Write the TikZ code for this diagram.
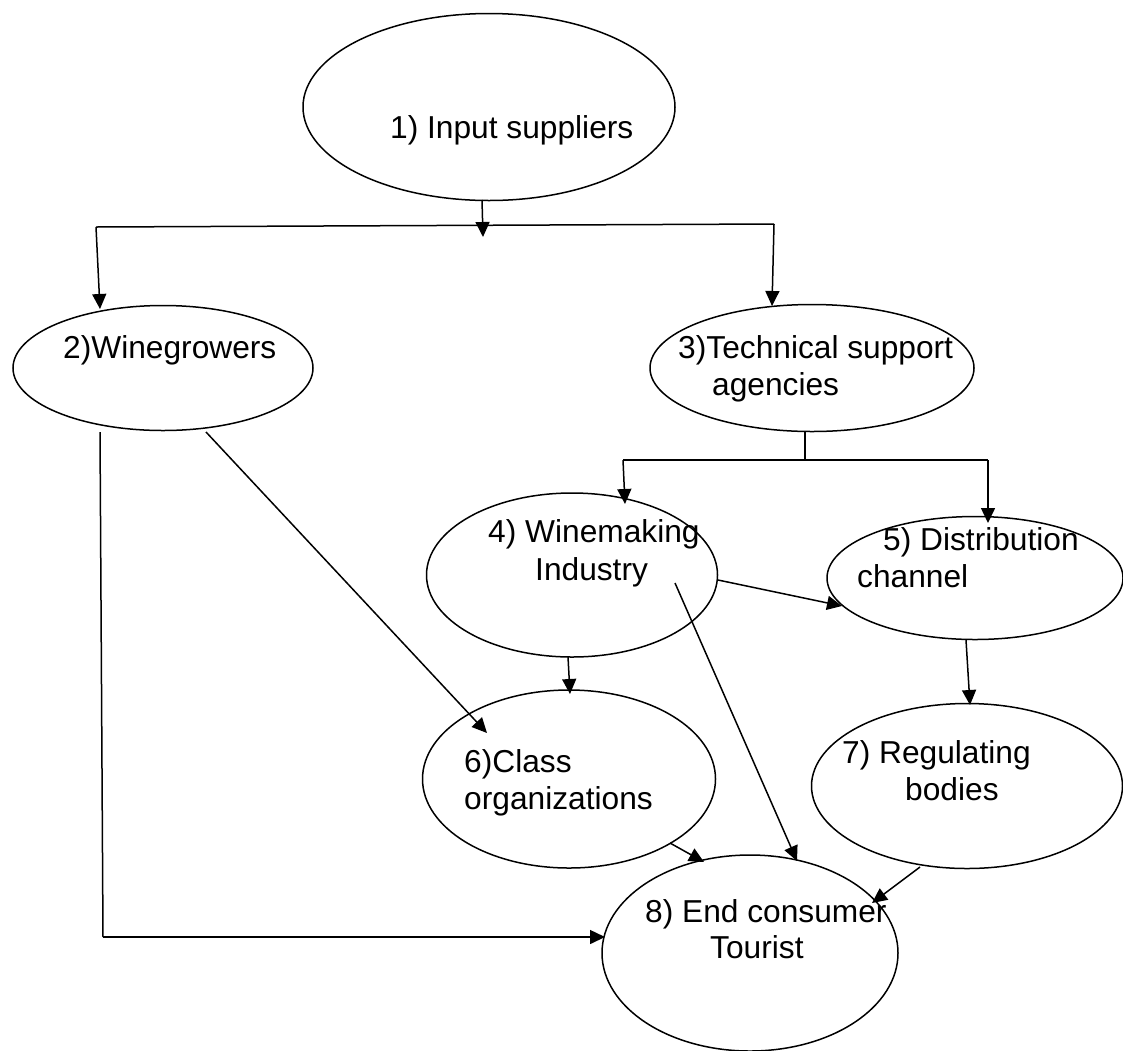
\documentclass[tikz,border=0pt]{standalone}
\usepackage{fontspec}
\setmainfont{Liberation Sans}
\usetikzlibrary{shapes.geometric,arrows.meta}
\begin{document}
\begin{tikzpicture}[x=1pt,y=-1pt,
  oval/.style={draw, ellipse, inner sep=0pt, outer sep=0pt, line width=1.5pt},
  lbl/.style={anchor=base west, inner sep=0pt, font=\fontsize{31.7}{37}\selectfont},
  conn/.style={line width=1.5pt},
  arr/.style={conn, -{Triangle[length=15pt,width=14pt]}}]
\useasboundingbox (0,0) rectangle (1123,1050);
\fill[white] (0,0) rectangle (1123,1050);
% ellipses
\node[oval, minimum width=372pt, minimum height=187pt] (e1) at (489,107) {};
\node[oval, minimum width=300pt, minimum height=125pt] (e2) at (163,368) {};
\node[oval, minimum width=324pt, minimum height=127pt] (e3) at (812,368) {};
\node[oval, minimum width=291pt, minimum height=164pt] (e4) at (572,575) {};
\node[oval, minimum width=296pt, minimum height=123pt] (e5) at (975,578) {};
\node[oval, minimum width=293pt, minimum height=178pt] (e6) at (569,779) {};
\node[oval, minimum width=311pt, minimum height=165pt] (e7) at (967,786) {};
\node[oval, minimum width=296pt, minimum height=196pt] (e8) at (750,953) {};
% labels
\node[lbl] (t1) at (390,138) {1) Input suppliers};
\node[lbl] (t2) at (63,358) {2)Winegrowers};
\node[lbl] (t3a) at (678,358) {3)Technical support};
\node[lbl] (t3b) at (712,395) {agencies};
\node[lbl] (t4a) at (488,542) {4) Winemaking};
\node[lbl] (t4b) at (535,580) {Industry};
\node[lbl] (t5a) at (883,550) {5) Distribution};
\node[lbl] (t5b) at (857,587) {channel};
\node[lbl] (t6a) at (464,772) {6)Class};
\node[lbl] (t6b) at (464,809) {organizations};
\node[lbl] (t7a) at (842,763) {7) Regulating};
\node[lbl] (t7b) at (905,800) {bodies};
\node[lbl] (t8a) at (645,922) {8) End consumer};
\node[lbl] (t8b) at (710,958) {Tourist};
% coordinates
\coordinate (s1) at (482,200);
\coordinate (a1) at (483,237);
\coordinate (hl) at (96,227);
\coordinate (hr) at (774,224);
\coordinate (a2) at (100,309);
\coordinate (a3) at (772,306);
\coordinate (s3) at (805,432);
\coordinate (j3) at (805,460);
\coordinate (jl) at (623,460);
\coordinate (jr) at (988,460);
\coordinate (a4) at (625,504);
\coordinate (a5) at (988,523);
\coordinate (s45) at (718,580);
\coordinate (a45) at (842,606);
\coordinate (s46) at (568,657);
\coordinate (a46) at (570,694);
\coordinate (s57) at (966,640);
\coordinate (a57) at (970,705);
\coordinate (s48) at (675,583);
\coordinate (a48) at (797,861);
\coordinate (s68) at (670,843);
\coordinate (a68) at (704,862);
\coordinate (s78) at (920,867);
\coordinate (a78) at (872,903);
\coordinate (d2) at (206,432);
\coordinate (a26) at (487,733);
\coordinate (b2) at (100,432);
\coordinate (c2) at (103,937);
\coordinate (a28) at (605,937);
% connectors
\draw[arr] (s1) -- (a1);
\draw[conn] (hl) -- (hr);
\draw[arr] (hl) -- (a2);
\draw[arr] (hr) -- (a3);
\draw[conn] (s3) -- (j3);
\draw[conn] (jl) -- (jr);
\draw[arr] (jl) -- (a4);
\draw[arr] (jr) -- (a5);
\draw[arr] (s45) -- (a45);
\draw[arr] (s46) -- (a46);
\draw[arr] (s57) -- (a57);
\draw[arr] (s48) -- (a48);
\draw[arr] (s68) -- (a68);
\draw[arr] (s78) -- (a78);
\draw[arr] (d2) -- (a26);
\draw[conn] (b2) -- (c2);
\draw[arr] (c2) -- (a28);
\end{tikzpicture}
\end{document}
